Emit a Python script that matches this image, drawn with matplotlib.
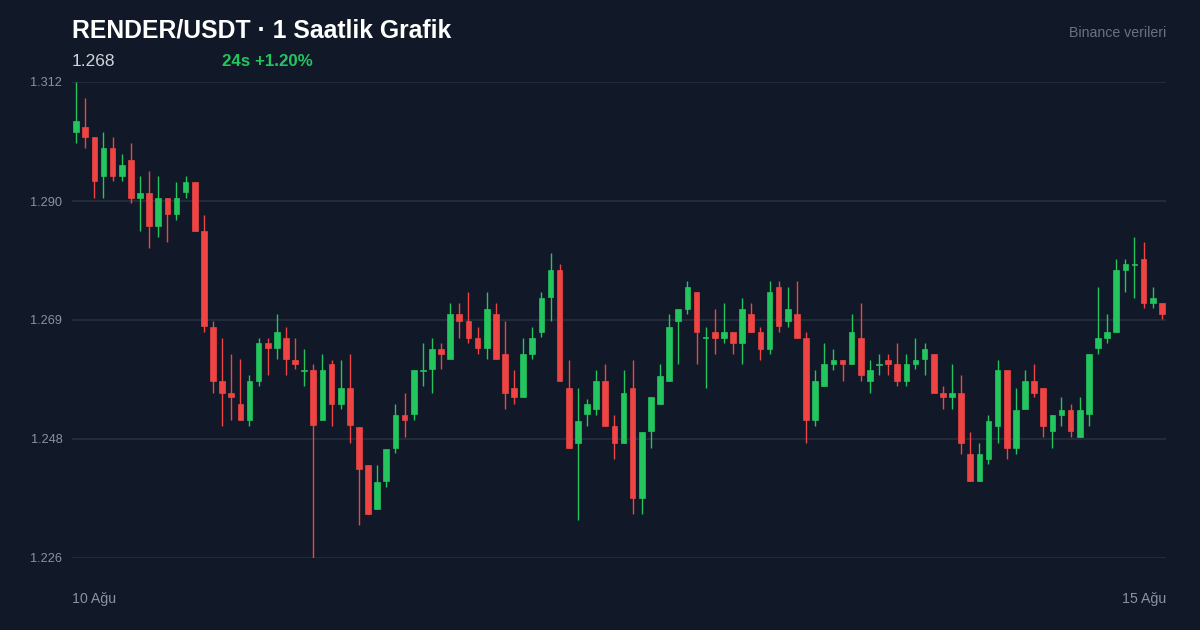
import matplotlib
matplotlib.use("Agg")
import matplotlib.pyplot as plt
import numpy as np

plt.rcParams['font.family'] = ['Liberation Sans', 'DejaVu Sans']

opens = [1.3030,1.3039,1.3021,1.2950,1.3001,1.2950,1.2979,1.2910,1.2919,1.2860,
         1.2910,1.2881,1.2921,1.2939,1.2851,1.2678,1.2579,1.2559,1.2539,1.2510,
         1.2579,1.2649,1.2640,1.2658,1.2618,1.2597,1.2599,1.2510,1.2610,1.2539,
         1.2568,1.2497,1.2428,1.2349,1.2400,1.2459,1.2519,1.2521,1.2597,1.2601,
         1.2638,1.2620,1.2700,1.2689,1.2658,1.2640,1.2700,1.2629,1.2568,1.2550,
         1.2629,1.2669,1.2731,1.2780,1.2568,1.2468,1.2521,1.2530,1.2579,1.2499,
         1.2468,1.2568,1.2369,1.2490,1.2539,1.2579,1.2689,1.2709,1.2740,1.2657,
         1.2669,1.2658,1.2669,1.2649,1.2700,1.2669,1.2638,1.2749,1.2689,1.2700,
         1.2658,1.2510,1.2570,1.2610,1.2618,1.2610,1.2658,1.2579,1.2608,1.2618,
         1.2610,1.2579,1.2610,1.2620,1.2629,1.2559,1.2550,1.2559,1.2448,1.2400,
         1.2439,1.2499,1.2599,1.2459,1.2530,1.2579,1.2568,1.2490,1.2519,1.2528,
         1.2479,1.2521,1.2640,1.2658,1.2669,1.2780,1.2789,1.2800,1.2720,1.2720]
highs = [1.3120,1.3091,1.3021,1.3030,1.3021,1.2990,1.3010,1.2950,1.2959,1.2950,
         1.2910,1.2939,1.2950,1.2939,1.2880,1.2689,1.2658,1.2629,1.2620,1.2590,
         1.2658,1.2658,1.2700,1.2678,1.2658,1.2638,1.2610,1.2629,1.2618,1.2618,
         1.2629,1.2497,1.2428,1.2428,1.2457,1.2539,1.2559,1.2599,1.2649,1.2658,
         1.2649,1.2720,1.2720,1.2740,1.2678,1.2740,1.2720,1.2689,1.2599,1.2658,
         1.2678,1.2740,1.2811,1.2791,1.2618,1.2568,1.2548,1.2599,1.2610,1.2519,
         1.2599,1.2618,1.2488,1.2550,1.2610,1.2700,1.2709,1.2760,1.2740,1.2678,
         1.2709,1.2720,1.2669,1.2729,1.2720,1.2678,1.2760,1.2760,1.2749,1.2760,
         1.2669,1.2599,1.2649,1.2638,1.2618,1.2700,1.2720,1.2618,1.2629,1.2629,
         1.2649,1.2629,1.2658,1.2649,1.2629,1.2570,1.2610,1.2590,1.2488,1.2468,
         1.2519,1.2618,1.2599,1.2568,1.2599,1.2610,1.2568,1.2519,1.2550,1.2539,
         1.2550,1.2629,1.2749,1.2700,1.2800,1.2800,1.2840,1.2831,1.2749,1.2720]
lows =  [1.3010,1.3001,1.2910,1.2910,1.2941,1.2941,1.2901,1.2851,1.2820,1.2840,
         1.2831,1.2871,1.2910,1.2851,1.2669,1.2559,1.2499,1.2510,1.2510,1.2499,
         1.2570,1.2590,1.2620,1.2590,1.2601,1.2570,1.2260,1.2510,1.2499,1.2530,
         1.2468,1.2320,1.2340,1.2349,1.2389,1.2450,1.2479,1.2510,1.2570,1.2559,
         1.2601,1.2620,1.2658,1.2649,1.2629,1.2620,1.2620,1.2530,1.2539,1.2550,
         1.2620,1.2660,1.2689,1.2579,1.2459,1.2329,1.2499,1.2519,1.2499,1.2439,
         1.2468,1.2340,1.2340,1.2459,1.2539,1.2579,1.2610,1.2700,1.2610,1.2568,
         1.2629,1.2649,1.2629,1.2610,1.2669,1.2618,1.2629,1.2669,1.2678,1.2658,
         1.2468,1.2499,1.2570,1.2599,1.2579,1.2610,1.2579,1.2559,1.2590,1.2590,
         1.2570,1.2570,1.2601,1.2590,1.2559,1.2530,1.2530,1.2448,1.2400,1.2400,
         1.2430,1.2468,1.2439,1.2448,1.2530,1.2550,1.2479,1.2459,1.2499,1.2479,
         1.2479,1.2499,1.2629,1.2649,1.2669,1.2740,1.2729,1.2711,1.2711,1.2691]
closes = [1.3049,1.3021,1.2941,1.3001,1.2950,1.2970,1.2910,1.2919,1.2860,1.2910,
          1.2881,1.2910,1.2939,1.2851,1.2680,1.2579,1.2559,1.2550,1.2510,1.2579,
          1.2649,1.2640,1.2669,1.2620,1.2610,1.2599,1.2501,1.2599,1.2539,1.2568,
          1.2501,1.2420,1.2340,1.2398,1.2457,1.2519,1.2510,1.2599,1.2599,1.2638,
          1.2629,1.2700,1.2689,1.2658,1.2640,1.2709,1.2620,1.2559,1.2550,1.2629,
          1.2658,1.2729,1.2780,1.2579,1.2459,1.2508,1.2539,1.2579,1.2499,1.2468,
          1.2559,1.2369,1.2488,1.2550,1.2588,1.2678,1.2709,1.2749,1.2669,1.2658,
          1.2658,1.2669,1.2649,1.2709,1.2669,1.2638,1.2740,1.2680,1.2709,1.2658,
          1.2510,1.2579,1.2610,1.2618,1.2610,1.2669,1.2590,1.2599,1.2610,1.2610,
          1.2579,1.2610,1.2618,1.2638,1.2559,1.2550,1.2559,1.2468,1.2400,1.2448,
          1.2508,1.2599,1.2459,1.2528,1.2579,1.2559,1.2499,1.2519,1.2528,1.2490,
          1.2528,1.2629,1.2658,1.2669,1.2780,1.2791,1.2791,1.2720,1.2729,1.2700]

y_ticks = [1.226, 1.2475, 1.269, 1.2905, 1.312]
y_tick_labels = ["1.226", "1.248", "1.269", "1.290", "1.312"]
x_labels = ["10 Ağu", "15 Ağu"]
title = "RENDER/USDT · 1 Saatlik Grafik"
last_price = "1.268"
change = "24s +1.20%"
source = "Binance verileri"

BG = "#111827"
GREEN = "#22c55e"
RED = "#ef4444"

fig = plt.figure(figsize=(12, 6.3), dpi=100, facecolor=BG)
ax = fig.add_axes([0.06, 1 - 558/630, 0.912, (558-82)/630])
ax.set_facecolor(BG)

o = np.array(opens); h = np.array(highs); l = np.array(lows); c = np.array(closes)
x = np.arange(len(o))
up = c >= o
cols = np.where(up, GREEN, RED)
ax.vlines(x, l, h, colors=cols, linewidth=1.0, zorder=2)
bottoms = np.minimum(o, c)
heights = np.maximum(np.abs(c - o), 0.0003)
ax.bar(x, heights, bottom=bottoms, width=0.62, color=cols, edgecolor=cols, linewidth=0.5, zorder=3)

ax.set_xlim(-0.45, len(o) - 0.5)
ax.set_ylim(1.226, 1.312)
ax.set_yticks(y_ticks)
ax.set_yticklabels(y_tick_labels, color="#8b93a1", fontsize=9.2)
ax.tick_params(axis='y', length=0, pad=7)
ax.set_xticks([])
ax.grid(axis='y', color="#263040", linewidth=1.2, zorder=0)
for s in ax.spines.values():
    s.set_visible(False)

fig.text(72/1200, 1 - 30/630, title, color="white", fontsize=17.8, fontweight="bold", va="center", ha="left")
fig.text(72/1200, 1 - 61/630, last_price, color="#d1d5db", fontsize=12.5, va="center", ha="left")
fig.text(222/1200, 1 - 61/630, change, color=GREEN, fontsize=12.2, fontweight="bold", va="center", ha="left")
fig.text(1166/1200, 1 - 33/630, source, color="#6b7280", fontsize=10.2, va="center", ha="right")
fig.text(72/1200, 1 - 599/630, x_labels[0], color="#8b93a1", fontsize=10.2, va="center", ha="left")
fig.text(1166/1200, 1 - 599/630, x_labels[1], color="#8b93a1", fontsize=10.2, va="center", ha="right")

fig.savefig("out.png", dpi=100, facecolor=BG)
